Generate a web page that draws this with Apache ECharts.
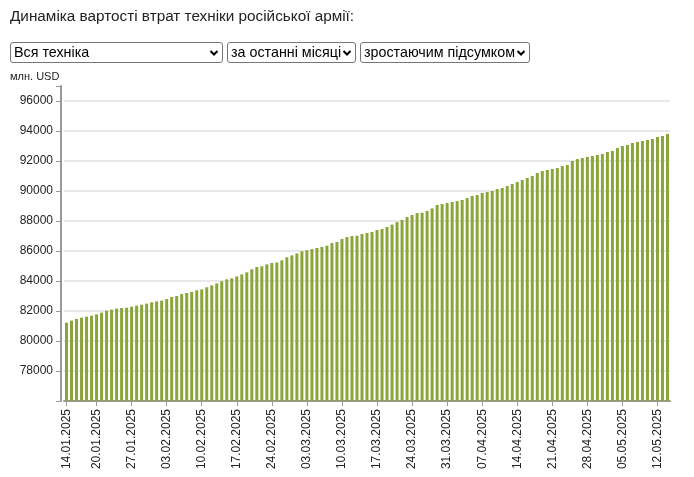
<!DOCTYPE html>
<html>
<head>
<meta charset="utf-8">
<script src="https://cdn.jsdelivr.net/npm/echarts@6/dist/echarts.min.js"></script>
<style>
  html, body { margin: 0; padding: 0; background: #fff; }
  body { width: 694px; height: 477px; position: relative; overflow: hidden; font-family: Arial, "Liberation Sans", sans-serif; }
  #chart { position: absolute; left: 0; top: 0; width: 694px; height: 477px; }
  #title { position: absolute; left: 10px; top: 7px; font-size: 15.3px; color: #222; z-index: 2; white-space: nowrap; }
  .sel { position: absolute; top: 42px; height: 21px; z-index: 2; box-sizing: border-box;
         font-family: Arial, "Liberation Sans", sans-serif; font-size: 14.3px; color: #000;
         border: 1px solid #767676; border-radius: 3px; background-color: #fff;
         -webkit-appearance: none; appearance: none; padding: 0 14px 0 3px; margin: 0;
         background-image: url("data:image/svg+xml;utf8,<svg xmlns='http://www.w3.org/2000/svg' width='10' height='8'><path d='M1.5 2 L5 5.5 L8.5 2' stroke='black' stroke-width='2' fill='none'/></svg>");
         background-repeat: no-repeat; background-position: right 3px center; line-height: 19px; }
</style>
</head>
<body>
<div id="chart"></div>
<div id="title">Динаміка вартості втрат техніки російської армії:</div>
<select class="sel" style="left:10px;width:213px;"><option>Вся техніка</option></select>
<select class="sel" style="left:227px;width:129px;"><option>за останні місяці</option></select>
<select class="sel" style="left:360px;width:170px;"><option>зростаючим підсумком</option></select>
<script>
const dates = [
  '14.01.2025','15.01.2025','16.01.2025','17.01.2025','18.01.2025','19.01.2025','20.01.2025','21.01.2025','22.01.2025','23.01.2025',
  '24.01.2025','25.01.2025','26.01.2025','27.01.2025','28.01.2025','29.01.2025','30.01.2025','31.01.2025',
  '01.02.2025','02.02.2025','03.02.2025','04.02.2025','05.02.2025','06.02.2025','07.02.2025','08.02.2025','09.02.2025','10.02.2025',
  '11.02.2025','12.02.2025','13.02.2025','14.02.2025','15.02.2025','16.02.2025','17.02.2025','18.02.2025','19.02.2025','20.02.2025',
  '21.02.2025','22.02.2025','23.02.2025','24.02.2025','25.02.2025','26.02.2025','27.02.2025','28.02.2025',
  '01.03.2025','02.03.2025','03.03.2025','04.03.2025','05.03.2025','06.03.2025','07.03.2025','08.03.2025','09.03.2025','10.03.2025',
  '11.03.2025','12.03.2025','13.03.2025','14.03.2025','15.03.2025','16.03.2025','17.03.2025','18.03.2025','19.03.2025','20.03.2025',
  '21.03.2025','22.03.2025','23.03.2025','24.03.2025','25.03.2025','26.03.2025','27.03.2025','28.03.2025','29.03.2025','30.03.2025','31.03.2025',
  '01.04.2025','02.04.2025','03.04.2025','04.04.2025','05.04.2025','06.04.2025','07.04.2025','08.04.2025','09.04.2025','10.04.2025',
  '11.04.2025','12.04.2025','13.04.2025','14.04.2025','15.04.2025','16.04.2025','17.04.2025','18.04.2025','19.04.2025','20.04.2025',
  '21.04.2025','22.04.2025','23.04.2025','24.04.2025','25.04.2025','26.04.2025','27.04.2025','28.04.2025','29.04.2025','30.04.2025',
  '01.05.2025','02.05.2025','03.05.2025','04.05.2025','05.05.2025','06.05.2025','07.05.2025','08.05.2025','09.05.2025','10.05.2025',
  '11.05.2025','12.05.2025','13.05.2025','14.05.2025'
];

const lossValues = [
  81220, 81360, 81470, 81560, 81620, 81690, 81780, 81890, 82020, 82090,
  82160, 82200, 82220, 82290, 82360, 82420, 82490, 82580, 82640, 82690,
  82800, 82930, 83000, 83130, 83200, 83270, 83380, 83440, 83580, 83710,
  83840, 83980, 84110, 84180, 84310, 84440, 84580, 84780, 84930, 84980,
  85110, 85200, 85240, 85380, 85580, 85710, 85840, 85980, 86050, 86120,
  86200, 86270, 86360, 86530, 86600, 86800, 86930, 87000, 87020, 87130,
  87200, 87270, 87400, 87470, 87600, 87760, 87930, 88070, 88270, 88400,
  88530, 88550, 88670, 88840, 89070, 89130, 89200, 89270, 89330, 89400,
  89530, 89670, 89730, 89870, 89930, 90000, 90130, 90200, 90330, 90470,
  90600, 90730, 90870, 91000, 91200, 91330, 91400, 91470, 91530, 91670,
  91730, 92000, 92130, 92200, 92270, 92330, 92400, 92470, 92600, 92670,
  92870, 93000, 93070, 93200, 93270, 93330, 93400, 93470, 93600, 93670,
  93800
];

const yMin = 76000;
const yMax = 97000;
const yStep = 2000;
const unitLabel = 'млн. USD';

const chart = echarts.init(document.getElementById('chart'), null, { renderer: 'canvas' });

function showLabel(index) {
  return index === 0 || (index >= 6 && (index - 6) % 7 === 0);
}

chart.setOption({
  animation: false,
  textStyle: { fontFamily: 'Arial, "Liberation Sans", sans-serif' },
  title: {
    text: unitLabel,
    left: 10, top: 71, padding: 0,
    textStyle: { fontSize: 11, fontWeight: 'normal', color: '#222' }
  },
  grid: { left: 64, right: 24, top: 86, bottom: 76, containLabel: false },
  xAxis: {
    type: 'category',
    data: dates,
    boundaryGap: true,
    axisLine: { show: true, lineStyle: { color: '#999', width: 2 } },
    axisTick: { show: true, alignWithLabel: true, interval: showLabel, length: 5, lineStyle: { color: '#999', width: 1 } },
    axisLabel: { interval: showLabel, rotate: 90, fontSize: 12, color: '#222', margin: 8 },
    splitLine: { show: false }
  },
  yAxis: {
    type: 'value',
    min: yMin, max: yMax, interval: yStep,
    offset: 3,
    axisLine: { show: true, lineStyle: { color: '#999', width: 2 } },
    axisTick: { show: true, length: 5, lineStyle: { color: '#999', width: 1 } },
    axisLabel: {
      fontSize: 12, color: '#222', margin: 8,
      formatter: function (v) { return (v === yMin || v === yMax) ? '' : String(v); }
    },
    splitLine: { show: true, showMinLine: false, showMaxLine: false, lineStyle: { color: '#e8e8e8', width: 2 } }
  },
  series: [{
    type: 'bar',
    data: lossValues,
    barWidth: 3,
    itemStyle: { color: '#8aa63a' },
    silent: true
  }]
});
</script>
</body>
</html>
